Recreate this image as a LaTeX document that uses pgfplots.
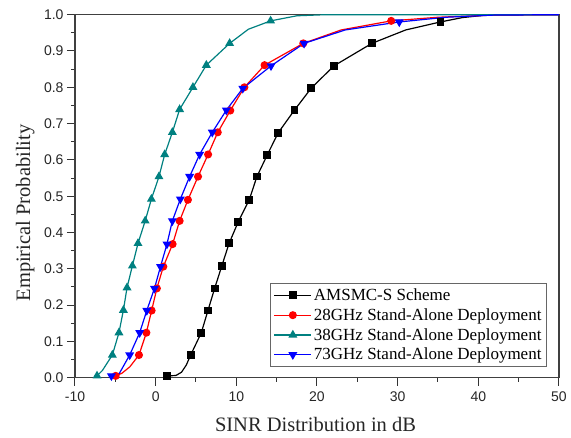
\documentclass[border=0pt]{standalone}
\usepackage{fontspec}
\setmainfont{Liberation Serif}
\setsansfont{Liberation Sans}
\usepackage{pgfplots}
\pgfplotsset{compat=1.18}

\definecolor{tealc}{RGB}{0,128,128}

\begin{document}
\begin{tikzpicture}
\useasboundingbox (-75pt,-59.3pt) rectangle (496pt,377.7pt);
\begin{axis}[
    scale only axis,
    width=484pt, height=363pt,
    at={(0,0)}, anchor=south west,
    xmin=-10, xmax=50, ymin=0, ymax=1,
    xtick={-10,0,...,50},
    ytick={0,0.1,...,1.0},
    minor tick num=1,
    tick align=outside,
    xtick pos=left, ytick pos=left,
    major tick length=8pt, minor tick length=4pt,
    tick style={line width=1pt, black!80},
    axis line style={line width=1.2pt, black!75},
    /pgf/number format/assume math mode=true,
    ticklabel style={font=\sffamily\fontsize{14}{16}\selectfont, black!85},
    xticklabel style={yshift=-2pt},
    yticklabel style={/pgf/number format/.cd, fixed, fixed zerofill, precision=1},
    xlabel={SINR Distribution in dB},
    ylabel={Empirical Probability},
    label style={font=\fontsize{20.5}{24}\selectfont, black!85, inner sep=0pt},
    xlabel style={at={(axis description cs:0.497,-0.128)}, anchor=center},
    ylabel style={at={(axis description cs:-0.103,0.454)}, anchor=center, rotate=0},
    legend cell align=left,
    legend style={at={(rel axis cs:0.975,0.03)}, anchor=south east,
        draw=black!60, line width=0.8pt, fill=white,
        font=\fontsize{17}{19}\selectfont, row sep=2.5pt,
        inner xsep=3pt, inner ysep=3pt},
    legend image code/.code={%
        \draw[#1, line width=1.2pt, mark indices={2}]
        plot coordinates {(0cm,0cm) (0.65cm,0cm) (1.3cm,0cm)};},
    every axis plot/.append style={line width=1.2pt},
]
% AMSMC-S Scheme
\addplot[black, mark=square*, mark size=3.3pt,
    mark indices={1,5,6,7,8,9,10,11,12,13,14,15,16,17,18,19,21}]
coordinates {
(1.4,0.005) (2.5,0.006) (3.2,0.015) (3.8,0.035) (4.34,0.0625)
(5.66,0.124) (6.48,0.185) (7.31,0.246) (8.2,0.308) (9.1,0.37)
(10.25,0.43) (11.6,0.49) (12.55,0.554) (13.84,0.614) (15.2,0.675)
(17.2,0.737) (19.3,0.798) (22.1,0.859) (26.8,0.921) (31,0.958)
(35.3,0.98) (38,0.992) (41,0.999) (50,1.0)};
\addlegendentry{AMSMC-S Scheme}
% 28 GHz
\addplot[red, mark=*, mark size=3.4pt,
    mark indices={1,4,5,6,7,8,9,10,11,12,13,14,15,16,17,18,20}]
coordinates {
(-4.96,0.005) (-4.2,0.012) (-3.2,0.03) (-2.07,0.0625) (-1.15,0.124)
(-0.5,0.185) (0.15,0.246) (0.95,0.306) (2.1,0.368) (2.97,0.432)
(4.0,0.49) (5.25,0.554) (6.5,0.615) (7.7,0.676) (9.25,0.736)
(11.0,0.80) (13.5,0.861) (18.3,0.921) (23,0.958) (29.2,0.983)
(35,0.993) (42,0.999) (50,1.0)};
\addlegendentry{28GHz Stand-Alone Deployment}
% 38 GHz
\addplot[tealc, mark=triangle*, mark size=4pt,
    mark indices={1,3,4,5,6,7,8,9,10,11,12,13,14,15,16,17,19}]
coordinates {
(-7.27,0.005) (-6.6,0.02) (-5.37,0.0625) (-4.55,0.124) (-4.0,0.186)
(-3.55,0.248) (-2.89,0.308) (-2.19,0.37) (-1.3,0.432) (-0.53,0.492)
(0.41,0.554) (1.12,0.615) (2.07,0.676) (2.97,0.739) (4.62,0.80)
(6.28,0.861) (9.17,0.921) (11.5,0.96) (14.25,0.983) (17.5,0.997)
(21,1.0) (50,1.0)};
\addlegendentry{38GHz Stand-Alone Deployment}
% 73 GHz
\addplot[blue, mark=triangle*, mark size=4pt, mark options={rotate=180},
    mark indices={1,3,4,5,6,7,8,9,10,11,12,13,14,15,16,17,19}]
coordinates {
(-5.49,0.005) (-4.5,0.012) (-3.22,0.0625) (-1.98,0.124) (-1.1,0.185)
(-0.15,0.246) (0.6,0.306) (1.4,0.368) (2.07,0.432) (3.06,0.492)
(4.21,0.554) (5.45,0.615) (7.02,0.676) (8.76,0.737) (10.8,0.797)
(14.3,0.859) (18.4,0.921) (23.5,0.958) (30.2,0.98) (36,0.993)
(42,0.999) (50,1.0)};
\addlegendentry{73GHz Stand-Alone Deployment}
\end{axis}
\end{tikzpicture}
\end{document}
